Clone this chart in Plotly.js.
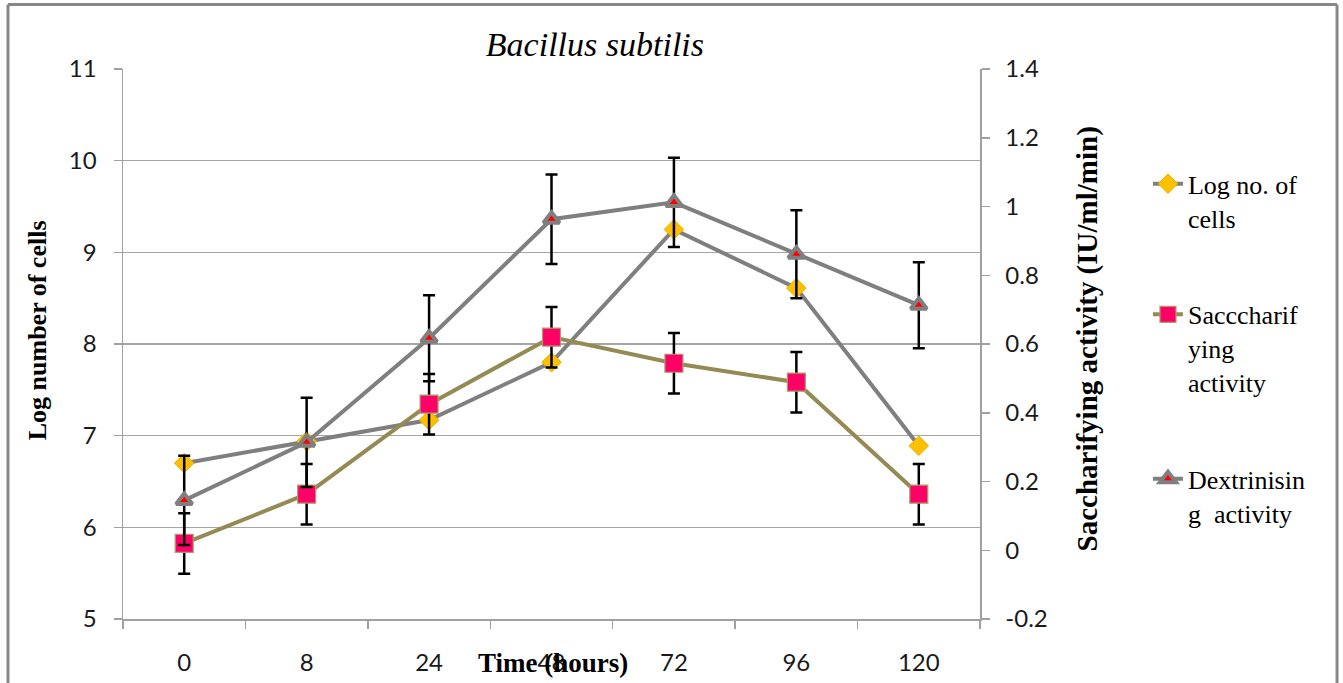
<!DOCTYPE html>
<html>
<head>
<meta charset="utf-8">
<script src="https://cdn.plot.ly/plotly-3.0.1.min.js"></script>
<style>
  html, body { margin: 0; padding: 0; background: #ffffff; }
  #chart { width: 1343px; height: 683px; }
</style>
</head>
<body>
<div id="chart"></div>
<script>
// ---- data ----
const hours = ['0', '8', '24', '48', '72', '96', '120'];
const logCells = [6.70, 6.94, 7.17, 7.80, 9.25, 8.61, 6.89];
const sacchActivity = [0.020, 0.163, 0.425, 0.620, 0.544, 0.489, 0.163];
const sacchError = [0.088, 0.088, 0.088, 0.088, 0.088, 0.088, 0.088];
const dextrActivity = [0.145, 0.314, 0.617, 0.963, 1.012, 0.861, 0.713];
const dextrError = [0.130, 0.130, 0.125, 0.130, 0.130, 0.128, 0.125];
const y2TickVals = [-0.2, 0, 0.2, 0.4, 0.6, 0.8, 1.0, 1.2, 1.4];
const y2TickText = ['-0.2', '0', '0.2', '0.4', '0.6', '0.8', '1', '1.2', '1.4'];
const seriesNames = ['Log no. of<br>cells', 'Sacccharif<br>ying<br>activity', 'Dextrinisin<br>g  activity'];

const serif = '"Liberation Serif", "Times New Roman", serif';
const sans = 'Lato, "Open Sans", sans-serif';
const gray = '#7F7F7F';
const olive = '#948A54';

const traces = [
  {
    x: hours, y: logCells, name: seriesNames[0], type: 'scatter', mode: 'lines+markers',
    yaxis: 'y', legendgroup: 'a',
    line: { color: gray, width: 4 },
    marker: { symbol: 'diamond', size: 15, color: '#FFC000', line: { color: '#E8AE00', width: 1 } }
  },
  {
    x: hours, y: sacchActivity, name: seriesNames[1], type: 'scatter', mode: 'lines+markers',
    yaxis: 'y2', legendgroup: 'b',
    line: { color: olive, width: 4 },
    marker: { symbol: 'square', size: 18, color: '#FF0066', line: { color: '#A89F6E', width: 1.2 } },
    error_y: { type: 'data', array: sacchError, visible: true, color: '#000000', thickness: 2.5, width: 6 }
  },
  {
    x: hours, y: dextrActivity, name: seriesNames[2], type: 'scatter', mode: 'lines+markers',
    yaxis: 'y2', legendgroup: 'c',
    line: { color: gray, width: 4 },
    marker: { symbol: 'triangle-up', size: 14, color: '#FF0000', line: { color: gray, width: 4 } },
    error_y: { type: 'data', array: dextrError, visible: true, color: '#000000', thickness: 2.5, width: 6 }
  }
];

const axisLine = '#A0A0A0';
const tickFont = { family: sans, size: 24, color: '#1a1a1a' };
const layout = {
  width: 1343, height: 683,
  paper_bgcolor: '#ffffff', plot_bgcolor: '#ffffff',
  font: { family: serif, size: 26, color: '#000000' },
  margin: { l: 123, r: 363, t: 69, b: 64, pad: 0 },
  title: {
    text: '<i>Bacillus subtilis</i>',
    font: { family: serif, size: 34, color: '#000000' },
    x: 0.443, xref: 'container', xanchor: 'center',
    y: 0.936, yref: 'container', yanchor: 'middle'
  },
  showlegend: true,
  legend: {
    x: 1.196, xanchor: 'left', y: 0.834, yanchor: 'top',
    font: { family: serif, size: 26, color: '#000000' },
    valign: 'top', tracegroupgap: 60, bgcolor: 'rgba(0,0,0,0)'
  },
  xaxis: {
    type: 'category', range: [-0.5, 6.5],
    showline: true, linecolor: axisLine, linewidth: 1.5,
    ticks: 'outside', ticklen: 8, tickcolor: axisLine, tickwidth: 1.5,
    tickson: 'boundaries', showgrid: false, zeroline: false,
    tickfont: tickFont,
    ticklabelstandoff: 22
  },
  yaxis: {
    range: [5, 11], dtick: 1, tick0: 5,
    showline: true, linecolor: axisLine, linewidth: 1.5,
    ticks: 'outside', ticklen: 8, tickcolor: axisLine, tickwidth: 1.5,
    showgrid: true, gridcolor: '#A6A6A6', gridwidth: 1.5, zeroline: false,
    tickfont: tickFont,
    ticklabelstandoff: 12
  },
  yaxis2: {
    overlaying: 'y', side: 'right', range: [-0.2, 1.4],
    tickmode: 'array', tickvals: y2TickVals, ticktext: y2TickText,
    showline: true, linecolor: axisLine, linewidth: 1.5,
    ticks: 'outside', ticklen: 8, tickcolor: axisLine, tickwidth: 1.5,
    showgrid: false, zeroline: false,
    tickfont: tickFont,
    ticklabelstandoff: 11
  },
  annotations: [
    { text: '<b>Log number of cells</b>', xref: 'paper', yref: 'paper', x: -0.1003, y: 0.525,
      textangle: -90, showarrow: false, xanchor: 'center', yanchor: 'middle',
      font: { family: serif, size: 26, color: '#000000' } },
    { text: '<b>Saccharifying activity (IU/ml/min)</b>', xref: 'paper', yref: 'paper', x: 1.126, y: 0.51,
      textangle: -90, showarrow: false, xanchor: 'center', yanchor: 'middle',
      font: { family: serif, size: 29, color: '#000000' } },
    { text: '<b>Time (hours)</b>', xref: 'paper', yref: 'paper', x: 0.502, y: -0.08,
      showarrow: false, xanchor: 'center', yanchor: 'middle',
      font: { family: serif, size: 27, color: '#000000' } }
  ],
  shapes: [
    { type: 'line', xref: 'paper', yref: 'paper', x0: -0.1342, x1: 1.4166, y0: 1.1173, y1: 1.1173,
      line: { color: '#888888', width: 3 } },
    { type: 'line', xref: 'paper', yref: 'paper', x0: -0.1342, x1: -0.1342, y0: 1.1173, y1: -0.3,
      line: { color: '#888888', width: 3 } },
    { type: 'line', xref: 'paper', yref: 'paper', x0: 1.4166, x1: 1.4166, y0: 1.1173, y1: -0.3,
      line: { color: '#888888', width: 3 } }
  ]
};

Plotly.newPlot('chart', traces, layout, { displayModeBar: false, staticPlot: true });
</script>
</body>
</html>
